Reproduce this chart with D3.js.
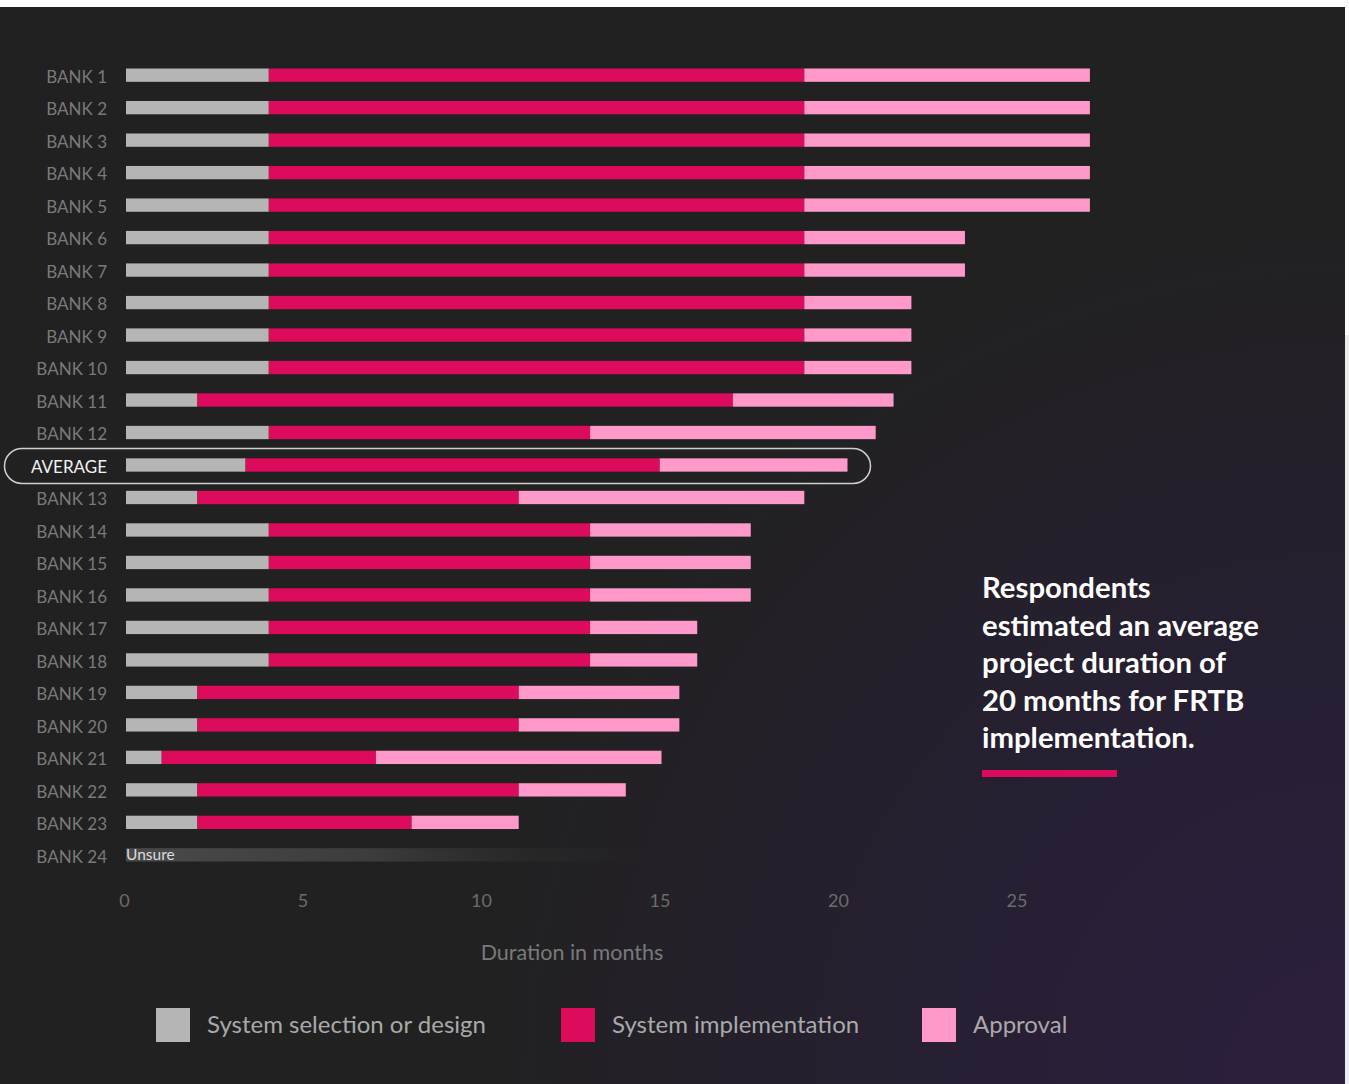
<!DOCTYPE html>
<html>
<head>
<meta charset="utf-8">
<script src="https://cdn.jsdelivr.net/npm/d3@7/dist/d3.min.js"></script>
<style>
  html, body { margin: 0; padding: 0; background: #ffffff; }
  svg { display: block; font-family: Lato, "Open Sans", sans-serif; }
</style>
</head>
<body>
<svg id="chart" width="1349" height="1084"></svg>
<script>
// Row labels, top to bottom
const categories = [
  "BANK 1", "BANK 2", "BANK 3", "BANK 4", "BANK 5", "BANK 6", "BANK 7",
  "BANK 8", "BANK 9", "BANK 10", "BANK 11", "BANK 12", "AVERAGE",
  "BANK 13", "BANK 14", "BANK 15", "BANK 16", "BANK 17", "BANK 18",
  "BANK 19", "BANK 20", "BANK 21", "BANK 22", "BANK 23", "BANK 24"
];

// Months spent in each phase (null = no estimate given)
const selection = [4, 4, 4, 4, 4, 4, 4, 4, 4, 4, 2, 4, 3.35,
                   2, 4, 4, 4, 4, 4, 2, 2, 1, 2, 2, null];
const implementation = [15, 15, 15, 15, 15, 15, 15, 15, 15, 15, 15, 9, 11.6,
                        9, 9, 9, 9, 9, 9, 9, 9, 6, 9, 6, null];
const approval = [8, 8, 8, 8, 8, 4.5, 4.5, 3, 3, 3, 4.5, 8, 5.26,
                  8, 4.5, 4.5, 4.5, 3, 3, 4.5, 4.5, 8, 3, 3, null];

const seriesNames = ["System selection or design", "System implementation", "Approval"];
const seriesColors = ["#b5b5b5", "#dc0b5b", "#ff99c9"];
const xTicks = [0, 5, 10, 15, 20, 25];
const highlightRow = "AVERAGE";
const unsureRow = "BANK 24";
const unsureLabel = "Unsure";
const axisTitle = "Duration in months";
const noteLines = [
  "Respondents",
  "estimated an average",
  "project duration of",
  "20 months for FRTB",
  "implementation."
];

const svg = d3.select("#chart");
const W = 1349, H = 1084;

// ---- background panel ----
const defs = svg.append("defs");
const bg = defs.append("radialGradient")
  .attr("id", "bgGrad")
  .attr("gradientUnits", "userSpaceOnUse")
  .attr("cx", 1345).attr("cy", 1084).attr("r", 880);
bg.append("stop").attr("offset", 0).attr("stop-color", "#2c1f3e");
bg.append("stop").attr("offset", 0.45).attr("stop-color", "#271f33");
bg.append("stop").attr("offset", 1).attr("stop-color", "#212121");

const fade = defs.append("linearGradient").attr("id", "unsureGrad")
  .attr("x1", 0).attr("x2", 1).attr("y1", 0).attr("y2", 0);
fade.append("stop").attr("offset", 0).attr("stop-color", "#4a4a4a");
fade.append("stop").attr("offset", 0.45).attr("stop-color", "#3c3c3c");
fade.append("stop").attr("offset", 1).attr("stop-color", "#212121").attr("stop-opacity", 0);

svg.append("rect").attr("x", 0).attr("y", 7).attr("width", 1345).attr("height", H - 7)
  .attr("fill", "url(#bgGrad)");
svg.append("rect").attr("x", 1345).attr("y", 335).attr("width", 4).attr("height", H - 335)
  .attr("fill", "#ececec");

// ---- scales ----
const x = d3.scaleLinear().domain([0, 25]).range([126, 1018.5]);
const y = d3.scaleBand().domain(categories).range([58.75, 871.25]).paddingInner(0.59).paddingOuter(0.3);
const bh = y.bandwidth();

const rows = categories.map((c, i) => ({
  name: c,
  parts: [selection[i], implementation[i], approval[i]]
}));

// ---- highlight outline around the average row ----
const avgY = y(highlightRow) + bh / 2;
svg.append("rect")
  .attr("x", 4.5).attr("y", avgY - 16.5)
  .attr("width", 866).attr("height", 35)
  .attr("rx", 17.5)
  .attr("fill", "none")
  .attr("stroke", "#cfcfcf")
  .attr("stroke-width", 1.5);

// ---- stacked bars ----
const g = svg.append("g");
rows.forEach(r => {
  if (r.parts[0] === null) return;
  let acc = 0;
  r.parts.forEach((v, k) => {
    g.append("rect")
      .attr("x", x(acc))
      .attr("y", y(r.name))
      .attr("width", x(acc + v) - x(acc))
      .attr("height", bh)
      .attr("fill", seriesColors[k]);
    acc += v;
  });
});

// ---- "Unsure" row ----
svg.append("rect")
  .attr("x", x(0)).attr("y", y(unsureRow))
  .attr("width", x(15.5) - x(0)).attr("height", bh)
  .attr("fill", "url(#unsureGrad)");
svg.append("text")
  .attr("x", x(0)).attr("y", y(unsureRow) + bh / 2 + 1)
  .attr("dominant-baseline", "middle")
  .attr("font-size", 15.5)
  .attr("fill", "#dcdcdc")
  .text(unsureLabel);

// ---- row labels ----
svg.append("g").selectAll("text").data(categories).join("text")
  .attr("x", 107)
  .attr("y", d => y(d) + bh / 2 + 3.5)
  .attr("text-anchor", "end")
  .attr("dominant-baseline", "middle")
  .attr("font-size", 17)
  .attr("fill", d => d === highlightRow ? "#f2f2f2" : "#7a7a7a")
  .text(d => d);

// ---- x axis ----
const axis = svg.append("g")
  .attr("transform", "translate(-2,894)")
  .call(d3.axisBottom(x).tickValues(xTicks).tickSize(0).tickPadding(0));
axis.select(".domain").remove();
axis.selectAll("text")
  .attr("font-family", "Lato, sans-serif")
  .attr("font-size", 18)
  .attr("fill", "#6c6c6c");

svg.append("text")
  .attr("x", 572).attr("y", 960)
  .attr("text-anchor", "middle")
  .attr("font-size", 21.5)
  .attr("fill", "#7a7a7a")
  .text(axisTitle);

// ---- legend ----
const legendX = [156, 561, 922];
const legend = svg.append("g");
seriesNames.forEach((n, k) => {
  legend.append("rect")
    .attr("x", legendX[k]).attr("y", 1008)
    .attr("width", 34).attr("height", 34)
    .attr("fill", seriesColors[k]);
  legend.append("text")
    .attr("x", legendX[k] + 51).attr("y", 1027)
    .attr("dominant-baseline", "middle")
    .attr("font-size", 24)
    .attr("fill", "#a9a9a9")
    .text(n);
});

// ---- annotation ----
const note = svg.append("text")
  .attr("font-size", 29.3)
  .attr("font-weight", 700)
  .attr("fill", "#ffffff");
noteLines.forEach((t, i) => {
  note.append("tspan").attr("x", 982).attr("y", 598 + i * 37.5).text(t);
});
svg.append("rect")
  .attr("x", 982).attr("y", 770).attr("width", 135).attr("height", 7)
  .attr("fill", seriesColors[1]);
</script>
</body>
</html>
